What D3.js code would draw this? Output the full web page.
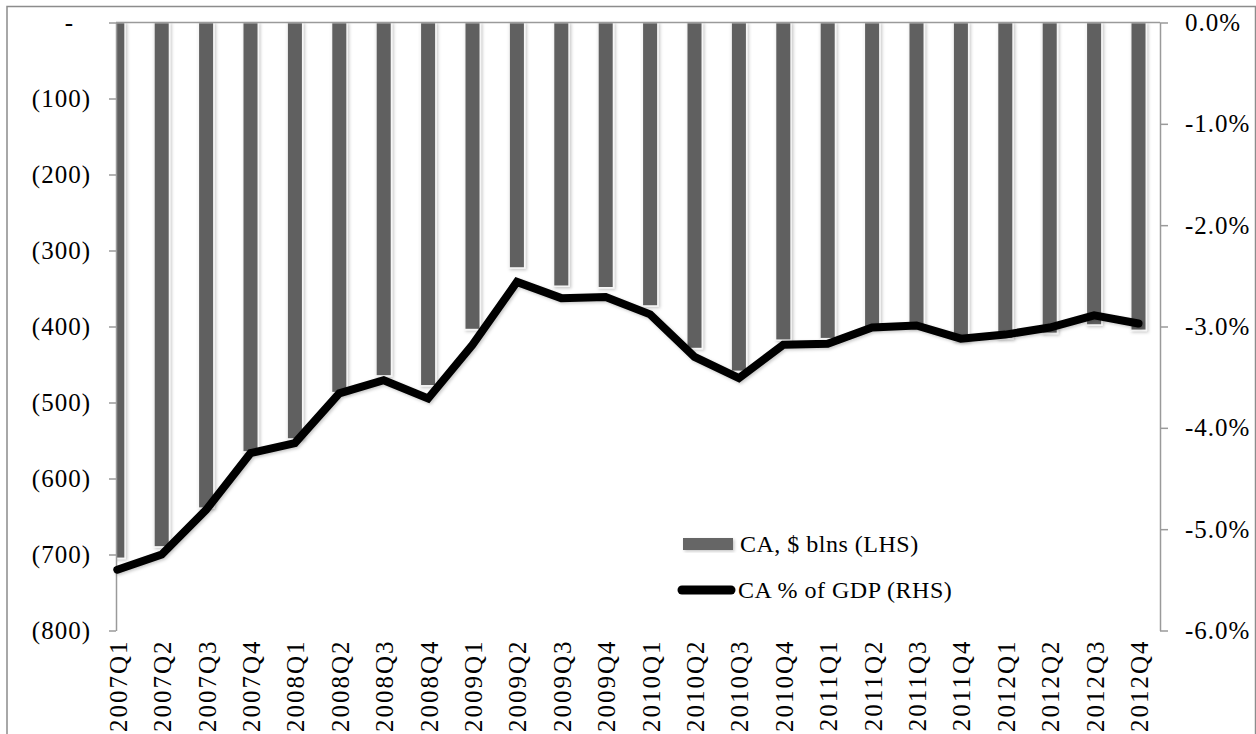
<!DOCTYPE html>
<html>
<head>
<meta charset="utf-8">
<script src="https://cdn.jsdelivr.net/npm/d3@7/dist/d3.min.js"></script>
<style>
  html, body { margin: 0; padding: 0; background: #fff; }
  svg { display: block; }
  text { font-family: "Liberation Serif", "Times New Roman", serif; fill: #000; }
</style>
</head>
<body>
<svg id="chart" width="1256" height="734"></svg>
<script>
// Quarterly current account: level in $ billions (bars, left axis) and share of GDP (line, right axis)
const quarters = [
  "2007Q1","2007Q2","2007Q3","2007Q4",
  "2008Q1","2008Q2","2008Q3","2008Q4",
  "2009Q1","2009Q2","2009Q3","2009Q4",
  "2010Q1","2010Q2","2010Q3","2010Q4",
  "2011Q1","2011Q2","2011Q3","2011Q4",
  "2012Q1","2012Q2","2012Q3","2012Q4"
];
const caBlns = [
  -705, -690, -639, -565,
  -548, -487, -465, -478,
  -404, -323, -347, -349,
  -373, -429, -459, -418,
  -416, -402, -401, -419,
  -416, -409, -398, -405
];
const caPctGdp = [
  -5.40, -5.25, -4.81, -4.25,
  -4.15, -3.66, -3.53, -3.71,
  -3.18, -2.56, -2.72, -2.71,
  -2.88, -3.30, -3.51, -3.18,
  -3.17, -3.01, -2.99, -3.12,
  -3.08, -3.01, -2.89, -2.97
];
const leftTicks = [0, -100, -200, -300, -400, -500, -600, -700, -800];
const rightTicks = [0, -1, -2, -3, -4, -5, -6];
const legendLabels = ["CA, $ blns (LHS)", "CA % of GDP (RHS)"];

const svg = d3.select("#chart");
const plot = { left: 116, right: 1160, top: 22.5, bottom: 630.5 };

const fmtLocale = d3.formatLocale({ decimal: ".", thousands: ",", grouping: [3], currency: ["$", ""], minus: "-" });
const pctFmt = fmtLocale.format(".1f");

const x = d3.scalePoint().domain(quarters).range([117.3, 1138.5]);
const yL = d3.scaleLinear().domain([0, -800]).range([plot.top, plot.bottom]);
const yR = d3.scaleLinear().domain([0, -6]).range([plot.top, plot.bottom]);
const barW = x.step() * 0.35;

const defs = svg.append("defs");
defs.append("clipPath").attr("id", "plotClip")
  .append("rect")
  .attr("x", plot.left).attr("y", plot.top - 2)
  .attr("width", plot.right - plot.left).attr("height", plot.bottom - plot.top + 20);
const shadow = defs.append("filter").attr("id", "soft")
  .attr("x", "-50%").attr("y", "-10%").attr("width", "200%").attr("height", "130%");
shadow.append("feDropShadow").attr("dx", 1.5).attr("dy", 1.5)
  .attr("stdDeviation", 1.5).attr("flood-color", "#000").attr("flood-opacity", 0.22);

// outer chart frame
svg.append("rect")
  .attr("x", 7).attr("y", 6.5).attr("width", 1248.5).attr("height", 760)
  .attr("fill", "none").attr("stroke", "#8c8c8c").attr("stroke-width", 1.5);

// bars hanging from zero
svg.append("g").attr("clip-path", "url(#plotClip)")
  .selectAll("rect").data(quarters).join("rect")
  .attr("x", (d) => x(d) - barW / 2)
  .attr("y", yL(0))
  .attr("width", barW)
  .attr("height", (d, i) => yL(caBlns[i]) - yL(0))
  .attr("fill", "#606060")
  .attr("stroke", "#f6f6f6").attr("stroke-width", 1.5)
  .attr("filter", "url(#soft)");

// category axis line at zero
svg.append("line")
  .attr("x1", plot.left).attr("x2", plot.right)
  .attr("y1", plot.top).attr("y2", plot.top)
  .attr("stroke", "#9a9a9a").attr("stroke-width", 1.5);

// left value axis
const gL = svg.append("g").attr("transform", `translate(${plot.left},0)`)
  .call(d3.axisLeft(yL).tickValues(leftTicks).tickSize(7).tickSizeOuter(0).tickPadding(18)
    .tickFormat((v) => v === 0 ? "-" : "(" + d3.format(",")(Math.abs(v)) + ")"));
gL.selectAll("path, line").attr("stroke", "#9a9a9a").attr("stroke-width", 1.5);
gL.selectAll("text").attr("font-size", 25).attr("letter-spacing", 1)
  .attr("font-family", "Liberation Serif")
  .attr("dx", (v) => v === 0 ? -17 : 0);

// right value axis
const gR = svg.append("g").attr("transform", `translate(${plot.right},0)`)
  .call(d3.axisRight(yR).tickValues(rightTicks).tickSize(8).tickSizeOuter(0).tickPadding(17)
    .tickFormat((v) => pctFmt(v) + "%"));
gR.selectAll("path, line").attr("stroke", "#9a9a9a").attr("stroke-width", 1.5);
gR.selectAll("text").attr("font-size", 25).attr("letter-spacing", 1)
  .attr("font-family", "Liberation Serif");

// category labels along the bottom, rotated
const gB = svg.append("g").attr("transform", `translate(0,${plot.bottom})`)
  .call(d3.axisBottom(x).tickSize(0).tickSizeOuter(0));
gB.select(".domain").remove();
gB.selectAll("text")
  .attr("font-size", 25).attr("letter-spacing", 2)
  .attr("font-family", "Liberation Serif")
  .attr("text-anchor", "end")
  .attr("transform", "rotate(-90)")
  .attr("x", -9).attr("y", 0).attr("dy", "0.36em");

// share of GDP line
const line = d3.line().x((d, i) => x(quarters[i])).y((d) => yR(d));
svg.append("path")
  .datum(caPctGdp)
  .attr("d", line)
  .attr("fill", "none").attr("stroke", "#000").attr("stroke-width", 8)
  .attr("stroke-linejoin", "miter").attr("stroke-linecap", "round")
  .attr("filter", "url(#soft)");

// legend
const lg = svg.append("g");
lg.append("rect").attr("x", 683).attr("y", 538).attr("width", 50).attr("height", 12)
  .attr("fill", "#666").attr("filter", "url(#soft)");
lg.append("text").attr("x", 740).attr("y", 544).attr("dy", "0.35em")
  .attr("font-size", 24).attr("letter-spacing", 0.5).text(legendLabels[0]);
lg.append("line").attr("x1", 682).attr("x2", 731).attr("y1", 590).attr("y2", 590)
  .attr("stroke", "#000").attr("stroke-width", 9).attr("stroke-linecap", "round");
lg.append("text").attr("x", 738).attr("y", 590).attr("dy", "0.35em")
  .attr("font-size", 24).attr("letter-spacing", 0.5).text(legendLabels[1]);
</script>
</body>
</html>
